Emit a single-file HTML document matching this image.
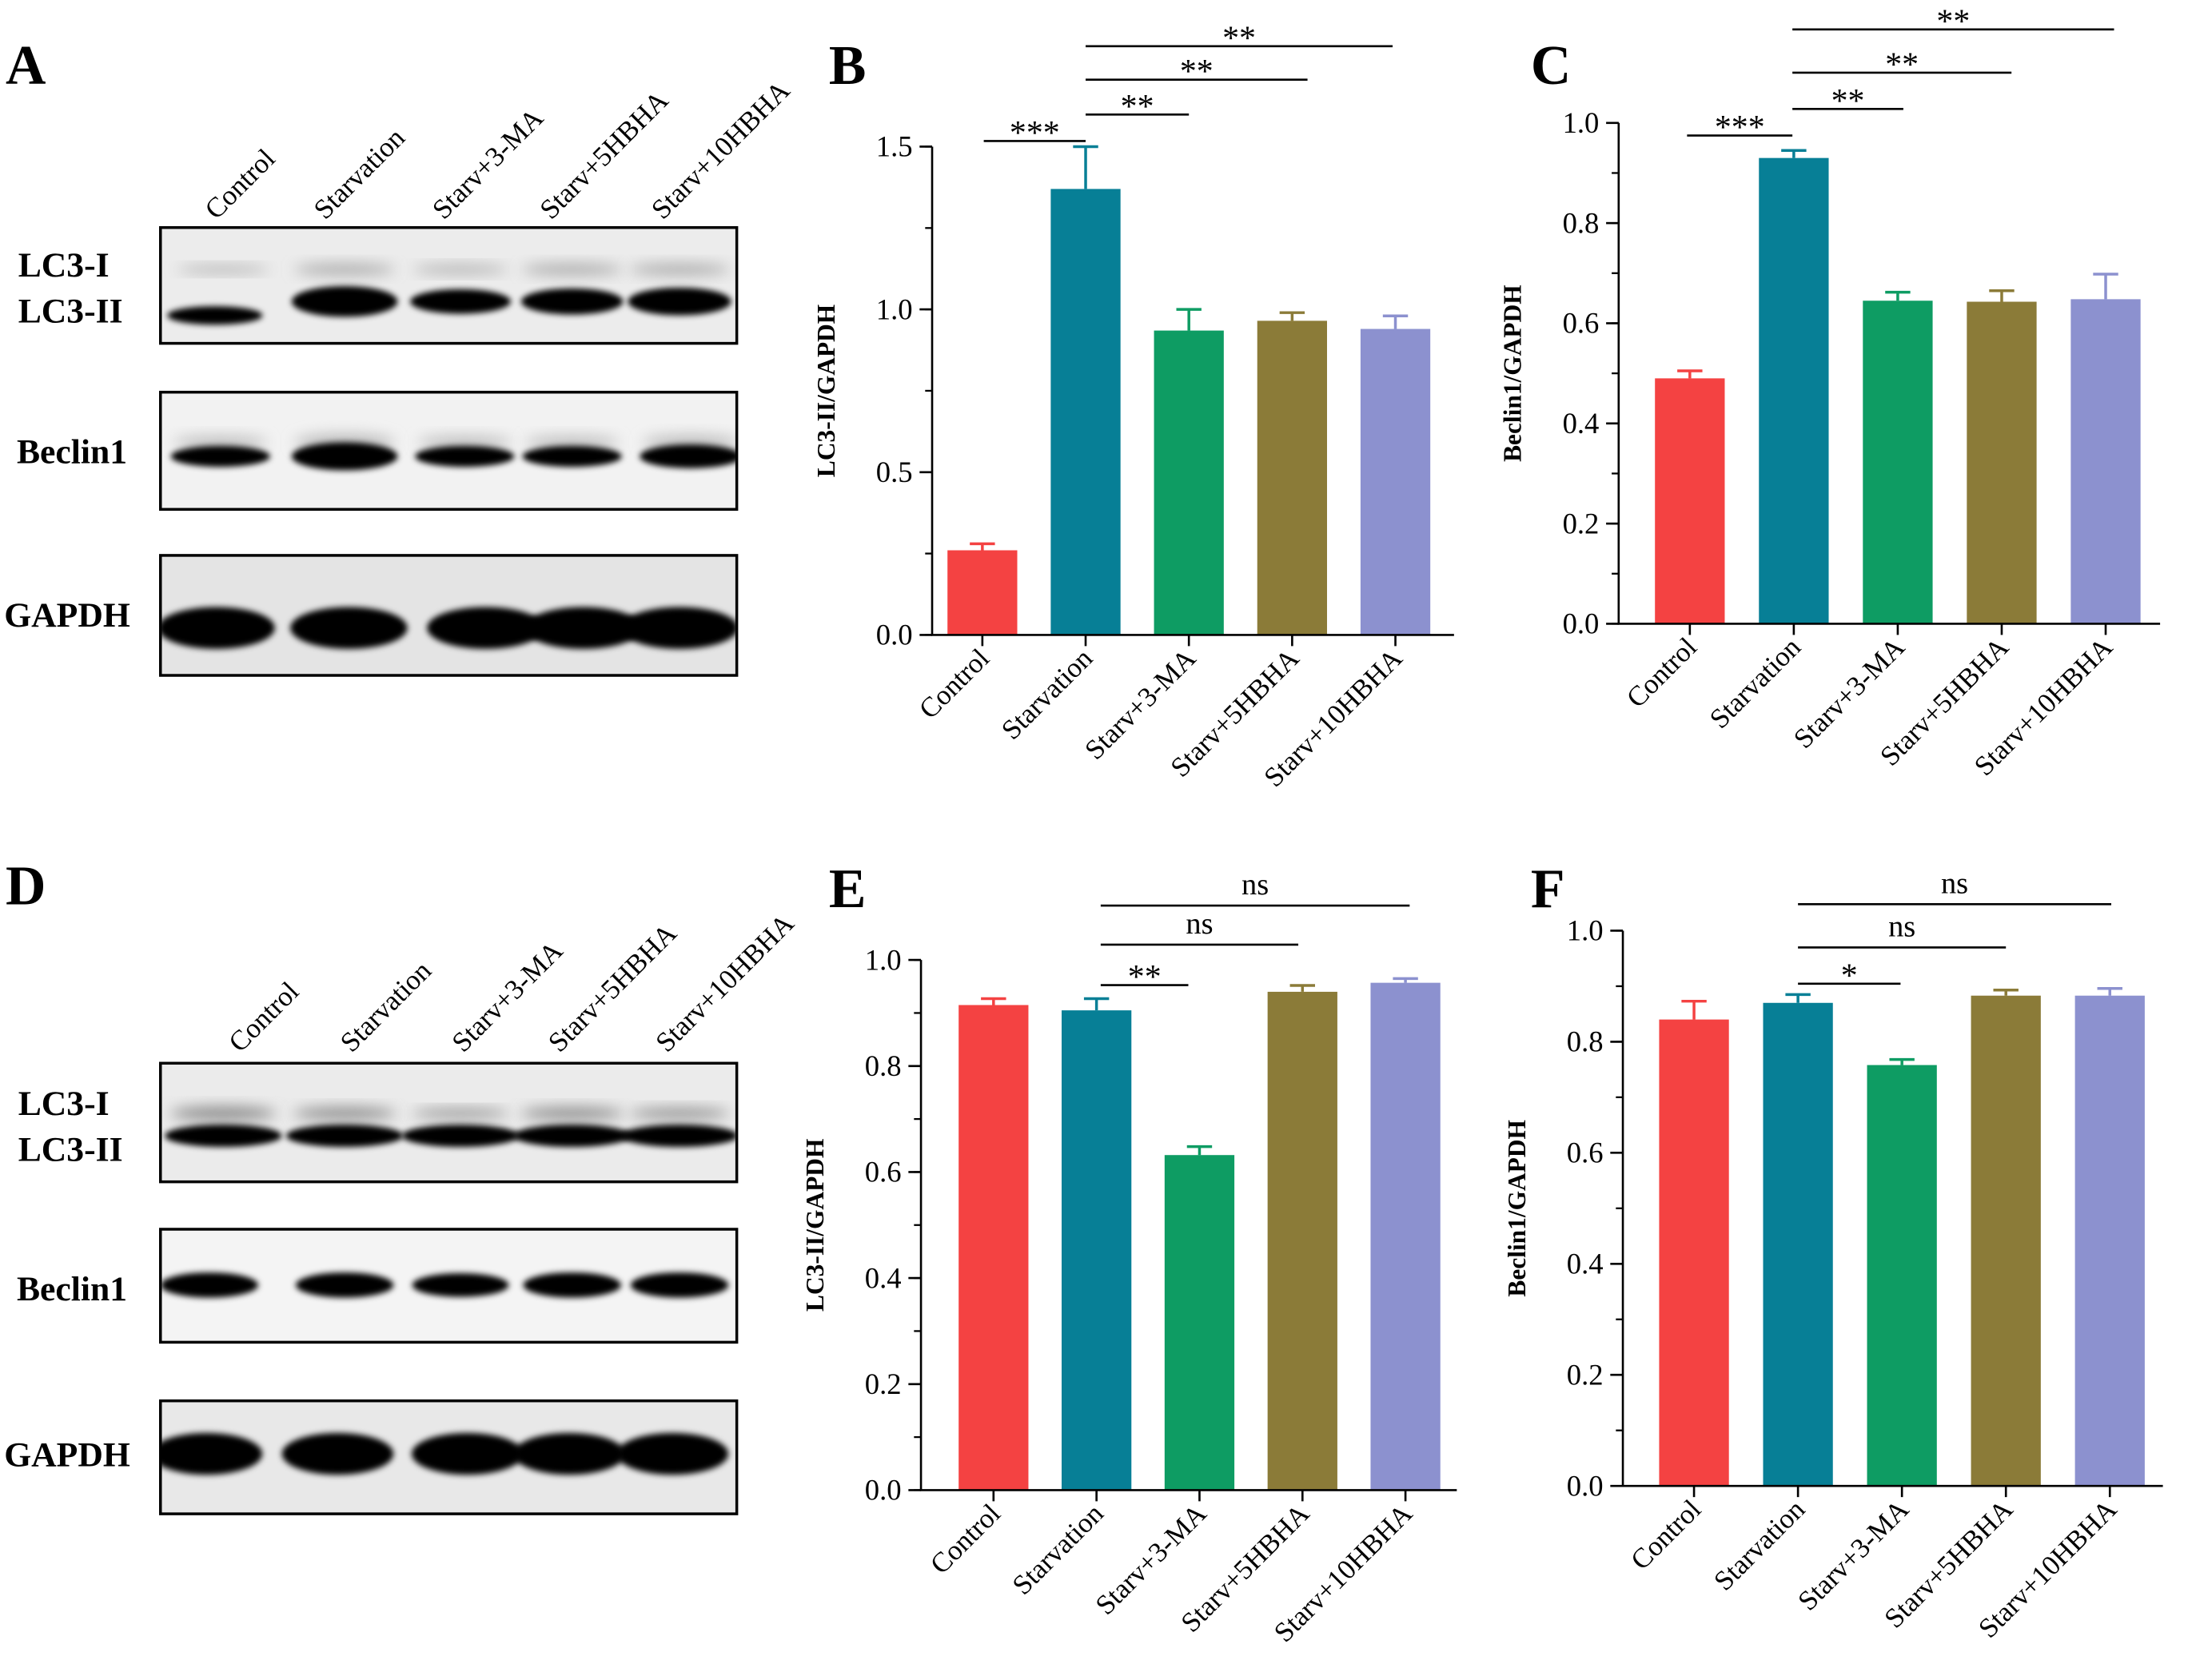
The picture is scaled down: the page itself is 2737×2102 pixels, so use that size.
<!DOCTYPE html>
<html><head><meta charset="utf-8"><style>
html,body{margin:0;padding:0;background:#fff}
svg{display:block}
text{font-family:"Liberation Serif","Times New Roman",serif}
</style></head><body>
<svg id="fig" width="2737" height="2102" viewBox="0 0 1568 1204" xmlns="http://www.w3.org/2000/svg" font-family="Liberation Serif, serif">
<defs>
<filter id="blur2" x="-20%" y="-50%" width="140%" height="200%"><feGaussianBlur stdDeviation="2.2"/></filter>
<filter id="blur5" x="-20%" y="-80%" width="140%" height="260%"><feGaussianBlur stdDeviation="5"/></filter>
</defs>
<g id="root"></g>
</svg>
<script>
const categories = ["Control","Starvation","Starv+3-MA","Starv+5HBHA","Starv+10HBHA"];
const colors = ["#f44242","#077f96","#0e9c63","#8b7b38","#8c91cf"];
const bMeans = [0.26,1.37,0.935,0.965,0.94];
const bErr = [0.02,0.13,0.065,0.025,0.04];
const bTicks = [0,0.5,1.0,1.5];
const bTickLabels = ["0.0","0.5","1.0","1.5"];
const bSig = [[0,1,"***"],[1,2,"**"],[1,3,"**"],[1,4,"**"]];
const cMeans = [0.49,0.93,0.645,0.643,0.648];
const cErr = [0.015,0.015,0.017,0.022,0.05];
const cTicks = [0,0.2,0.4,0.6,0.8,1.0];
const cTickLabels = ["0.0","0.2","0.4","0.6","0.8","1.0"];
const cSig = [[0,1,"***"],[1,2,"**"],[1,3,"**"],[1,4,"**"]];
const eMeans = [0.915,0.905,0.632,0.94,0.957];
const eErr = [0.012,0.022,0.016,0.012,0.008];
const eTicks = [0,0.2,0.4,0.6,0.8,1.0];
const eTickLabels = ["0.0","0.2","0.4","0.6","0.8","1.0"];
const eSig = [[1,2,"**"],[1,3,"ns"],[1,4,"ns"]];
const fMeans = [0.84,0.87,0.758,0.883,0.883];
const fErr = [0.033,0.015,0.01,0.01,0.013];
const fTicks = [0,0.2,0.4,0.6,0.8,1.0];
const fTickLabels = ["0.0","0.2","0.4","0.6","0.8","1.0"];
const fSig = [[1,2,"*"],[1,3,"ns"],[1,4,"ns"]];
const lc3I_A = [0.5,0.8,0.6,0.8,0.8];
const lc3II_A = [0.6,1.0,0.8,0.85,0.9];
const beclin_A = [0.75,1.0,0.75,0.75,0.85];
const lc3I_D = [0.8,0.7,0.5,0.7,0.6];
const lc3II_D = [1,1,1,1,1];
const beclin_D = [0.9,0.9,0.85,0.9,0.9];

const NS="http://www.w3.org/2000/svg";
const root=document.getElementById('root');
const defs=document.querySelector('defs');
function el(tag,attrs,parent,text){const e=document.createElementNS(NS,tag);for(const k in attrs)e.setAttribute(k,attrs[k]);if(text!==undefined)e.textContent=text;(parent||root).appendChild(e);return e;}

function drawChart(cfg){
  const g=el('g',{});
  
  
  const y=v=>cfg.y0-(v/cfg.max)*(cfg.y0-cfg.yTop);
  const x=i=>cfg.x0+cfg.first+i*cfg.step;
  cfg.means.forEach((m,i)=>{
    const r=el('rect',{x:x(i)-25,y:y(m),width:50,height:cfg.y0-y(m),fill:colors[i]},g);
    
    
    const top=y(m+cfg.err[i]);
    const eb=el('path',{d:`M${x(i)},${y(m)}V${top}M${x(i)-9},${top}H${x(i)+9}`,stroke:colors[i],'stroke-width':2,fill:'none'},g);
    
    
  });
  const ax=el('path',{d:`M${cfg.x0},${cfg.yTop}V${cfg.y0}H${cfg.xEnd}`,stroke:'#000','stroke-width':1.5,fill:'none'},g);
  
  
  for(let v=0;v<=cfg.max+1e-9;v+=cfg.minor){
    el('line',{x1:cfg.x0-5,x2:cfg.x0,y1:y(v),y2:y(v),stroke:'#000','stroke-width':1.3},g);
  }
  cfg.ticks.forEach((t,i)=>{
    el('line',{x1:cfg.x0-9,x2:cfg.x0,y1:y(t),y2:y(t),stroke:'#000','stroke-width':1.5},g);
    const tl=el('text',{x:cfg.x0-14,y:y(t)+7,'text-anchor':'end','font-size':21},g,cfg.tickLabels[i]);
    
    
  });
  categories.forEach((c,i)=>{
    el('line',{x1:x(i),x2:x(i),y1:cfg.y0,y2:cfg.y0+8,stroke:'#000','stroke-width':1.5},g);
    const t=el('text',{x:0,y:0,'text-anchor':'end','font-size':20,transform:`translate(${x(i)+6},${cfg.y0+18}) rotate(-45)`},g,c);
    
    
  });
  const yt=el('text',{x:0,y:0,'text-anchor':'middle','font-size':18,'font-weight':'bold',transform:`translate(${cfg.x0-70},${(cfg.y0+cfg.yTop)/2}) rotate(-90)`},g,cfg.ytitle);
  
  
  cfg.sig.forEach((s,k)=>{
    const ly=cfg.sigY[k];
    const x1=x(s[0])+cfg.sigOff[k][0], x2=x(s[1])+cfg.sigOff[k][1];
    const l=el('line',{x1:x1,x2:x2,y1:ly,y2:ly,stroke:'#000','stroke-width':1.5},g);
    
    
    const isStar=s[2].indexOf('*')>=0;
    const t=el('text',{x:(x1+x2)/2,y:isStar?ly+2:ly-8,'text-anchor':'middle','font-size':isStar?24:22},g,s[2]);
    
    
  });
  const p=el('text',{x:cfg.letterX,y:cfg.letterY,'font-size':40,'font-weight':'bold'},g,cfg.letter);
  
  
}

drawChart({name:'chart-b',letter:'B',letterX:594,letterY:60,x0:668,y0:455,yTop:105,max:1.5,minor:0.25,xEnd:1042,first:36,step:74,means:bMeans,err:bErr,ticks:bTicks,tickLabels:bTickLabels,ytitle:'LC3-II/GAPDH',sig:bSig,sigY:[101,82,57,33],sigOff:[[1,0],[0,0],[0,11],[0,-2]]});
drawChart({name:'chart-c',letter:'C',letterX:1097,letterY:60,x0:1160,y0:447,yTop:88,max:1.0,minor:0.1,xEnd:1548,first:51,step:74.5,means:cMeans,err:cErr,ticks:cTicks,tickLabels:cTickLabels,ytitle:'Beclin1/GAPDH',sig:cSig,sigY:[97,78,52,21],sigOff:[[-2,-1],[-1,4],[-1,7],[-1,6]]});
drawChart({name:'chart-e',letter:'E',letterX:594,letterY:650,x0:660,y0:1068,yTop:688,max:1.0,minor:0.1,xEnd:1044,first:52,step:73.8,means:eMeans,err:eErr,ticks:eTicks,tickLabels:eTickLabels,ytitle:'LC3-II/GAPDH',sig:eSig,sigY:[706,677,649],sigOff:[[3,-8],[3,-3],[3,3]]});
drawChart({name:'chart-f',letter:'F',letterX:1097,letterY:650,x0:1163,y0:1065,yTop:667,max:1.0,minor:0.1,xEnd:1550,first:51,step:74.5,means:fMeans,err:fErr,ticks:fTicks,tickLabels:fTickLabels,ytitle:'Beclin1/GAPDH',sig:fSig,sigY:[705,679,648],sigOff:[[0,-1],[0,0],[0,1]]});

let clipN=0;
function drawBlot(cfg){
  const g=el('g',{});
  
  
  const lanes=[160,247,330,410,487];
  const letter=el('text',{x:4,y:cfg.letterY,'font-size':40,'font-weight':'bold'},g,cfg.letter);
  
  
  categories.forEach((c,i)=>{
    const t=el('text',{x:0,y:0,'font-size':20,transform:`translate(${cfg.laneX[i]},${cfg.laneY}) rotate(-45)`},g,c);
    
    
  });
  cfg.boxes.forEach((b)=>{
    const id='clip'+(clipN++);
    const cp=el('clipPath',{id:id},defs);
    el('rect',{x:115,y:b.y,width:413,height:b.h},cp);
    const bg=el('g',{'clip-path':`url(#${id})`},g);
    
    
    el('rect',{x:115,y:b.y,width:413,height:b.h,fill:b.bg},bg);
    b.bands.forEach(band=>{
      band.vals.forEach((v,i)=>{
        el('ellipse',{cx:lanes[i]+(band.dx?band.dx[i]:0),cy:b.y+band.cy+(band.dy?band.dy[i]:0),rx:band.rx*(0.75+0.25*v),ry:band.ry*v,fill:band.color,filter:band.blur},bg);
      });
    });
    el('rect',{x:115,y:b.y,width:413,height:b.h,fill:'none',stroke:'#000','stroke-width':2},g);
    b.labels.forEach(l=>{
      const t=el('text',{x:l.x,y:l.y,'font-size':25,'font-weight':'bold'},g,l.t);
      
      
    });
  });
}
drawBlot({name:'blot-panel-a',letter:'A',letterY:60,laneX:[155,233,318,395,475],laneY:158,boxes:[
  {key:'lc3',y:163,h:83,bg:'#ececec',labels:[{t:'LC3-I',x:13,y:198},{t:'LC3-II',x:13,y:231}],bands:[
    {vals:lc3I_A,cy:30,rx:38,ry:5,color:'#aaa',blur:'url(#blur5)'},
    {vals:lc3II_A,cy:53,rx:38,ry:11,color:'#000',blur:'url(#blur2)',dx:[-6,0,0,0,0],dy:[10,0,0,0,0]}]},
  {key:'beclin1',y:281,h:84,bg:'#f2f2f2',labels:[{t:'Beclin1',x:12,y:332}],bands:[
    {vals:beclin_A,cy:36,rx:36,ry:6,color:'#bbb',blur:'url(#blur5)',dx:[-2,0,3,0,8]},
    {vals:beclin_A,cy:46,rx:38,ry:10,color:'#000',blur:'url(#blur2)',dx:[-2,0,3,0,8]}]},
  {key:'gapdh',y:398,h:86,bg:'#e4e4e4',labels:[{t:'GAPDH',x:3,y:449}],bands:[
    {vals:[1,1,1,1,1],cy:52,rx:42,ry:15,color:'#000',blur:'url(#blur2)',dx:[-5,3,18,8,0]}]}
]});
drawBlot({name:'blot-panel-d',letter:'D',letterY:648,laneX:[172,252,332,401,478],laneY:755,boxes:[
  {key:'lc3',y:762,h:85,bg:'#ebebeb',labels:[{t:'LC3-I',x:13,y:799},{t:'LC3-II',x:13,y:832}],bands:[
    {vals:lc3I_D,cy:36,rx:40,ry:6,color:'#888',blur:'url(#blur5)'},
    {vals:lc3II_D,cy:52,rx:42,ry:8,color:'#000',blur:'url(#blur2)'}]},
  {key:'beclin1',y:881,h:81,bg:'#f4f4f4',labels:[{t:'Beclin1',x:12,y:932}],bands:[
    {vals:beclin_D,cy:40,rx:36,ry:10,color:'#000',blur:'url(#blur2)',dx:[-10,0,0,0,0]}]},
  {key:'gapdh',y:1004,h:81,bg:'#e8e8e8',labels:[{t:'GAPDH',x:3,y:1051}],bands:[
    {vals:[1,1,1,1,1],cy:38,rx:40,ry:15,color:'#000',blur:'url(#blur2)',dx:[-12,-5,5,-2,-5]}]}
]});
</script>
</body></html>
